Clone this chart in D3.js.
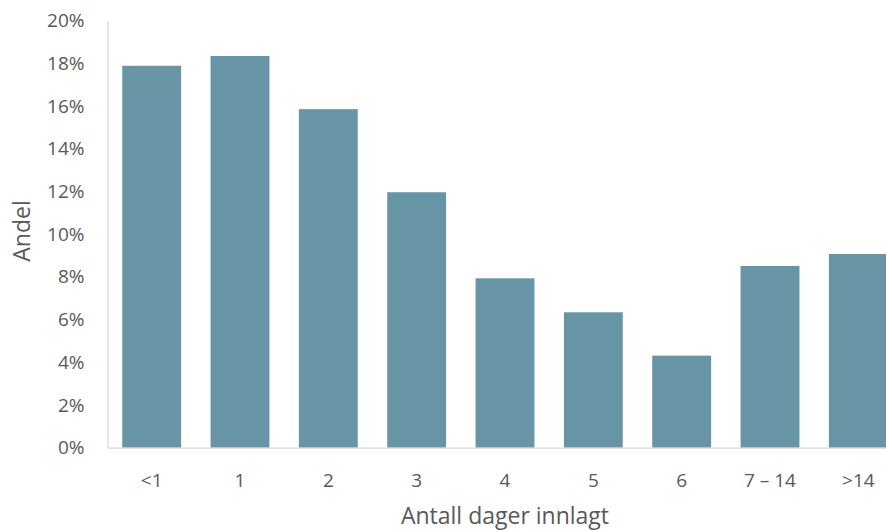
<!DOCTYPE html>
<html>
<head>
<meta charset="utf-8">
<script src="https://cdn.jsdelivr.net/npm/d3@7"></script>
<style>
  html, body { margin: 0; padding: 0; background: #fff; }
  svg { display: block; }
  text { font-family: "Open Sans", sans-serif; fill: #595959; }
</style>
</head>
<body>
<svg id="chart" width="886" height="530"></svg>
<script>
// Andel pasienter etter antall dager innlagt
const categories = ["<1", "1", "2", "3", "4", "5", "6", "7 – 14", ">14"];
const shares = [0.1788, 0.1834, 0.1585, 0.1196, 0.0793, 0.0634, 0.0431, 0.0851, 0.0907];
const yTicks = [0, 0.02, 0.04, 0.06, 0.08, 0.10, 0.12, 0.14, 0.16, 0.18, 0.20];

const svg = d3.select("#chart");
const plotLeft = 107.5, plotRight = 902.5, plotTop = 20.5, plotBottom = 447.7;

const x = d3.scaleBand().domain(categories).range([plotLeft, plotRight]).paddingInner(1 / 3).paddingOuter(1 / 6);
const y = d3.scaleLinear().domain([0, 0.20]).range([plotBottom, plotTop]);

// bars
svg.append("g").selectAll("rect").data(shares).join("rect")
  .attr("x", (d, i) => x(categories[i]))
  .attr("y", d => y(d))
  .attr("width", x.bandwidth())
  .attr("height", d => y(0) - y(d))
  .attr("fill", "#6795A5");

// y axis
const yAxis = svg.append("g").attr("transform", `translate(${plotLeft},0)`)
  .call(d3.axisLeft(y).tickValues(yTicks).tickFormat(d3.format(".0%")).tickSize(0).tickPadding(23));
yAxis.select(".domain").attr("stroke", "#D9D9D9").attr("stroke-width", 1.3);
yAxis.selectAll("text").style("font-size", "19px").style("font-family", "'Open Sans', sans-serif").attr("fill", "#595959");

// x axis
const xAxis = svg.append("g").attr("transform", `translate(0,${plotBottom})`)
  .call(d3.axisBottom(x).tickSize(0).tickPadding(26));
xAxis.select(".domain").attr("stroke", "#D9D9D9").attr("stroke-width", 1.3);
xAxis.selectAll("text").style("font-size", "19px").style("font-family", "'Open Sans', sans-serif").attr("fill", "#595959");

// axis titles
svg.append("text")
  .attr("x", (plotLeft + plotRight) / 2).attr("y", 524)
  .attr("text-anchor", "middle")
  .style("font-size", "23px")
  .text("Antall dager innlagt");

svg.append("text")
  .attr("transform", `translate(30,231) rotate(-90)`)
  .attr("text-anchor", "middle")
  .style("font-size", "23px")
  .text("Andel");
</script>
</body>
</html>
